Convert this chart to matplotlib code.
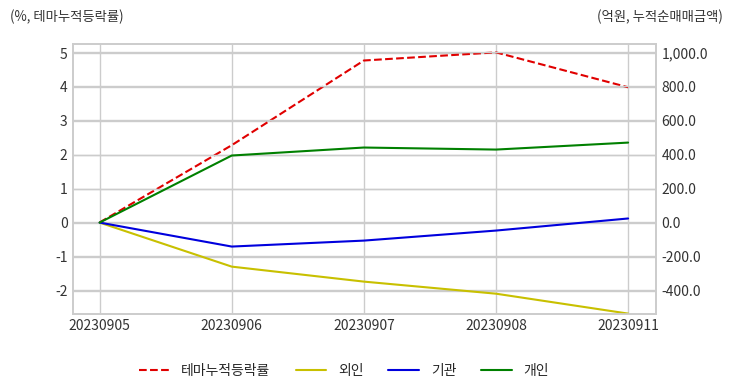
import matplotlib.pyplot as plt
from matplotlib.ticker import FuncFormatter

dates = ["20230905", "20230906", "20230907", "20230908", "20230911"]
theme_rate = [0.0, 2.28, 4.78, 5.02, 3.99]
foreign = [0.0, -259, -347, -418, -535]
institution = [0.0, -141, -106, -47, 24]
individual = [0.0, 394, 441, 429, 470]

plt.style.use('seaborn-v0_8-whitegrid')
plt.rcParams['font.family'] = ['Noto Sans CJK KR', 'DejaVu Sans']
plt.rcParams['axes.unicode_minus'] = False

fig, ax = plt.subplots(figsize=(7.32, 3.92), dpi=100)
fig.subplots_adjust(left=0.1, right=0.896, top=0.888, bottom=0.2)
ax2 = ax.twinx()

x = range(len(dates))
l1, = ax.plot(x, theme_rate, color='#e00000', linestyle='--', linewidth=1.5, label='테마누적등락률')
l2, = ax2.plot(x, foreign, color='#c8c000', linewidth=1.5, label='외인')
l3, = ax2.plot(x, institution, color='#0000dd', linewidth=1.5, label='기관')
l4, = ax2.plot(x, individual, color='#008000', linewidth=1.5, label='개인')

ax.set_xlim(-0.2, 4.21)
ax.set_xticks(list(x))
ax.set_xticklabels(dates)
ax.set_ylim(-2.69, 5.27)
ax.set_yticks(range(-2, 6))
ax2.set_ylim(-535, 1050)
ax2.set_yticks(range(-400, 1001, 200))
ax2.yaxis.set_major_formatter(FuncFormatter(lambda v, p: f"{v:,.1f}"))

for a in (ax, ax2):
    a.tick_params(labelsize=10, colors='#333333', length=0, pad=4)
    a.grid(True, color='#cccccc', linewidth=1.0)
    for s in a.spines.values():
        s.set_visible(True)
        s.set_color('#cccccc')
        s.set_linewidth(1.2)
ax2.grid(True, axis='y')
ax2.grid(False, axis='x')

fig.text(0.013, 0.957, '(%, 테마누적등락률)', fontsize=9.6, color='#333333', ha='left', va='center')
fig.text(0.987, 0.957, '(억원, 누적순매매금액)', fontsize=9.6, color='#333333', ha='right', va='center')

fig.legend(handles=[l1, l2, l3, l4], loc='lower center', ncol=4, frameon=False,
           fontsize=10, bbox_to_anchor=(0.47, 0.003), columnspacing=1.8,
           handlelength=2.2, handletextpad=0.85)

fig.savefig('out.png', dpi=100)
